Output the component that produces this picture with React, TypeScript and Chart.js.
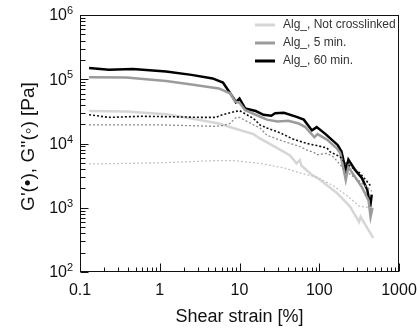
import React, { useEffect, useRef } from "react";
import { Chart, registerables } from "chart.js";

Chart.register(...registerables);

// ---- Data (strain in %, modulus in Pa) ----
const strain60Solid = [0.13, 0.23, 0.46, 1.2, 2.5, 4.6, 6.2, 8.3, 9.0, 10, 11.8, 16, 20, 25, 28, 36, 52, 64, 81, 93, 120, 170, 190, 215, 232, 280, 342, 400, 436, 455];
const gPrime60 = [1.5e5, 1.4e5, 1.45e5, 1.32e5, 1.17e5, 1.03e5, 8.9e4, 5.2e4, 4.4e4, 5.0e4, 3.5e4, 3.2e4, 2.8e4, 2.7e4, 2.95e4, 3.0e4, 2.6e4, 2.35e4, 1.6e4, 1.8e4, 1.4e4, 9.5e3, 7.5e3, 3.8e3, 5.6e3, 3.9e3, 2.9e3, 1.9e3, 1.05e3, 1.6e3];

const strain5Solid = [0.13, 0.38, 1.2, 2.5, 5.5, 7.7, 8.8, 10, 11.8, 16, 22, 30, 41, 55, 67, 87, 95, 125, 166, 183, 215, 232, 342, 415, 440, 465];
const gPrime5 = [1.07e5, 1.06e5, 9.4e4, 8.3e4, 7.2e4, 6.0e4, 4.5e4, 4.3e4, 3.3e4, 2.8e4, 2.35e4, 2.2e4, 2.25e4, 2.05e4, 1.8e4, 1.25e4, 1.4e4, 1.15e4, 8.4e3, 7.1e3, 2.7e3, 4.3e3, 2.1e3, 1.3e3, 720, 1.0e3];

const strainNCSolid = [0.13, 0.38, 1.2, 2.5, 5.5, 8.9, 15, 18, 33, 43, 52, 57, 60, 80, 103, 166, 242, 316, 330, 475];
const gPrimeNC = [3.2e4, 3.15e4, 2.85e4, 2.45e4, 2.05e4, 1.7e4, 1.4e4, 1.2e4, 7.9e3, 6.5e3, 4.9e3, 5.5e3, 4.5e3, 3.3e3, 2.7e3, 1.7e3, 1.05e3, 600, 720, 340];

const strain60Dotted = [0.13, 0.23, 0.6, 1.6, 3.4, 5.0, 6.1, 8.9, 10, 15, 18, 22, 33, 47, 70, 93, 125, 137, 183, 205, 320, 455];
const gDouble60 = [2.8e4, 2.55e4, 2.65e4, 2.6e4, 2.55e4, 2.55e4, 2.8e4, 3.15e4, 3.25e4, 2.45e4, 1.95e4, 1.75e4, 1.45e4, 1.17e4, 1.0e4, 9.3e3, 8.5e3, 7.4e3, 6.2e3, 5.2e3, 3.5e3, 2.1e3];

const strain5Dotted = [0.13, 1, 4.8, 6.1, 7.6, 8.9, 10, 15, 18, 22, 33, 58, 70, 85, 95, 125, 150, 183, 205, 320, 455];
const gDouble5 = [1.95e4, 1.95e4, 1.85e4, 1.9e4, 2.05e4, 2.5e4, 2.55e4, 1.95e4, 1.75e4, 1.35e4, 1.12e4, 8.9e3, 7.9e3, 7.3e3, 6.7e3, 7.0e3, 6.2e3, 4.7e3, 3.9e3, 2.6e3, 1.8e3];

const strainNCDotted = [0.13, 1, 4.8, 8.9, 20, 38, 56, 93, 150, 222, 320, 460];
const gDoubleNC = [4.8e3, 5.0e3, 5.4e3, 5.4e3, 4.8e3, 4.1e3, 3.5e3, 3.0e3, 2.2e3, 1.55e3, 1.05e3, 1.0e3];

// ---- Axis / labels ----
const xMajorTicks = [0.1, 1, 10, 100, 1000];
const xTickLabels = ["0.1", "1", "10", "100", "1000"];
const yMajorTicks = [1e2, 1e3, 1e4, 1e5, 1e6];
const yTickExponents = ["2", "3", "4", "5", "6"];
const legendLabels = ["Alg_, Not crosslinked", "Alg_, 5 min.", "Alg_, 60 min."];
const legendColors = ["#d6d6d6", "#9b9b9b", "#000000"];
const xTitle = "Shear strain [%]";
const yTitle = "G'(\u2022), G''(\u25E6) [Pa]";

const FONT = "'Liberation Sans', Arial, sans-serif";

const toPoints = (xs: number[], ys: number[]) => xs.map((x, i) => ({ x, y: ys[i] }));

const axesPlugin = {
  id: "axesPlugin",
  afterDraw(chart: any) {
    const { ctx, chartArea: a, scales } = chart;
    const xs = scales.x;
    const ys = scales.y;
    const L = Math.round(a.left) + 0.5;
    const R = Math.round(a.right) - 0.5;
    const T = Math.round(a.top) + 0.5;
    const B = Math.round(a.bottom) - 0.5;
    ctx.save();
    ctx.strokeStyle = "#111";
    ctx.lineWidth = 1;
    ctx.strokeRect(L, T, R - L, B - T);

    // x ticks (inside, pointing up)
    ctx.beginPath();
    for (let d = 0; d < xMajorTicks.length; d++) {
      const base = xMajorTicks[d];
      const px = Math.round(xs.getPixelForValue(base)) + 0.5;
      ctx.moveTo(px, B);
      ctx.lineTo(px, B - 8);
      if (d < xMajorTicks.length - 1) {
        for (let k = 2; k <= 9; k++) {
          const mx = Math.round(xs.getPixelForValue(base * k)) + 0.5;
          ctx.moveTo(mx, B);
          ctx.lineTo(mx, B - 4);
        }
      }
    }
    // y ticks (inside, pointing right)
    for (let d = 0; d < yMajorTicks.length; d++) {
      const base = yMajorTicks[d];
      const py = Math.round(ys.getPixelForValue(base)) + 0.5;
      ctx.moveTo(L, py);
      ctx.lineTo(L + 8, py);
      if (d < yMajorTicks.length - 1) {
        for (let k = 2; k <= 9; k++) {
          const my = Math.round(ys.getPixelForValue(base * k)) + 0.5;
          ctx.moveTo(L, my);
          ctx.lineTo(L + 5, my);
        }
      }
    }
    ctx.stroke();

    ctx.fillStyle = "#111";
    // x tick labels
    ctx.font = `16px ${FONT}`;
    ctx.textAlign = "center";
    ctx.textBaseline = "middle";
    xMajorTicks.forEach((v, i) => {
      ctx.fillText(xTickLabels[i], xs.getPixelForValue(v), a.bottom + 19);
    });
    // y tick labels: 10 with superscript exponent
    yMajorTicks.forEach((v, i) => {
      const py = ys.getPixelForValue(v);
      ctx.font = `16px ${FONT}`;
      ctx.textAlign = "right";
      ctx.textBaseline = "middle";
      const bx = a.left - 13;
      ctx.fillText("10", bx, py + 1);
      ctx.font = `11px ${FONT}`;
      ctx.textAlign = "left";
      ctx.fillText(yTickExponents[i], bx, py - 4);
    });

    // axis titles
    ctx.font = `18px ${FONT}`;
    ctx.textAlign = "center";
    ctx.textBaseline = "middle";
    ctx.fillText(xTitle, (a.left + a.right) / 2, a.bottom + 45);
    ctx.save();
    ctx.translate(29, (a.top + a.bottom) / 2 + 3);
    ctx.rotate(-Math.PI / 2);
    ctx.font = `19px ${FONT}`;
    ctx.fillText(yTitle, 0, 0);
    ctx.restore();

    // legend
    ctx.font = `12px ${FONT}`;
    ctx.textAlign = "left";
    ctx.textBaseline = "middle";
    legendLabels.forEach((lab, i) => {
      const ly = a.top + 10 + i * 18;
      ctx.strokeStyle = legendColors[i];
      ctx.lineWidth = 3;
      ctx.beginPath();
      ctx.moveTo(a.left + 175, ly);
      ctx.lineTo(a.left + 195, ly);
      ctx.stroke();
      ctx.fillStyle = "#333";
      ctx.fillText(lab, a.left + 203, ly);
    });
    ctx.restore();
  },
};

export default function App() {
  const ref = useRef<HTMLCanvasElement | null>(null);
  useEffect(() => {
    if (!ref.current) return;
    const solid = (data: any, color: string) => ({
      data,
      borderColor: color,
      borderWidth: 2.5,
      pointRadius: 0,
      tension: 0,
      fill: false,
    });
    const dotted = (data: any, color: string, w: number) => ({
      data,
      borderColor: color,
      borderWidth: w,
      borderDash: [2, 2],
      pointRadius: 0,
      tension: 0,
      fill: false,
    });
    const chart = new Chart(ref.current, {
      type: "line",
      data: {
        datasets: [
          dotted(toPoints(strainNCDotted, gDoubleNC), "#c4c4c4", 1.3),
          dotted(toPoints(strain5Dotted, gDouble5), "#8a8a8a", 1.3),
          dotted(toPoints(strain60Dotted, gDouble60), "#111111", 1.6),
          solid(toPoints(strainNCSolid, gPrimeNC), "#d6d6d6"),
          solid(toPoints(strain5Solid, gPrime5), "#9b9b9b"),
          solid(toPoints(strain60Solid, gPrime60), "#000000"),
        ] as any,
      },
      options: {
        responsive: false,
        animation: false,
        layout: { padding: { left: 80, right: 18, top: 15, bottom: 59 } },
        plugins: { legend: { display: false }, tooltip: { enabled: false } },
        scales: {
          x: { type: "logarithmic", min: 0.1, max: 1000, display: false },
          y: { type: "logarithmic", min: 100, max: 1e6, display: false },
        },
      },
      plugins: [axesPlugin],
    });
    return () => chart.destroy();
  }, []);
  return (
    <div style={{ position: "fixed", left: 0, top: 0, width: 417, height: 331, background: "#fff" }}>
      <canvas ref={ref} width={417} height={331} />
    </div>
  );
}
